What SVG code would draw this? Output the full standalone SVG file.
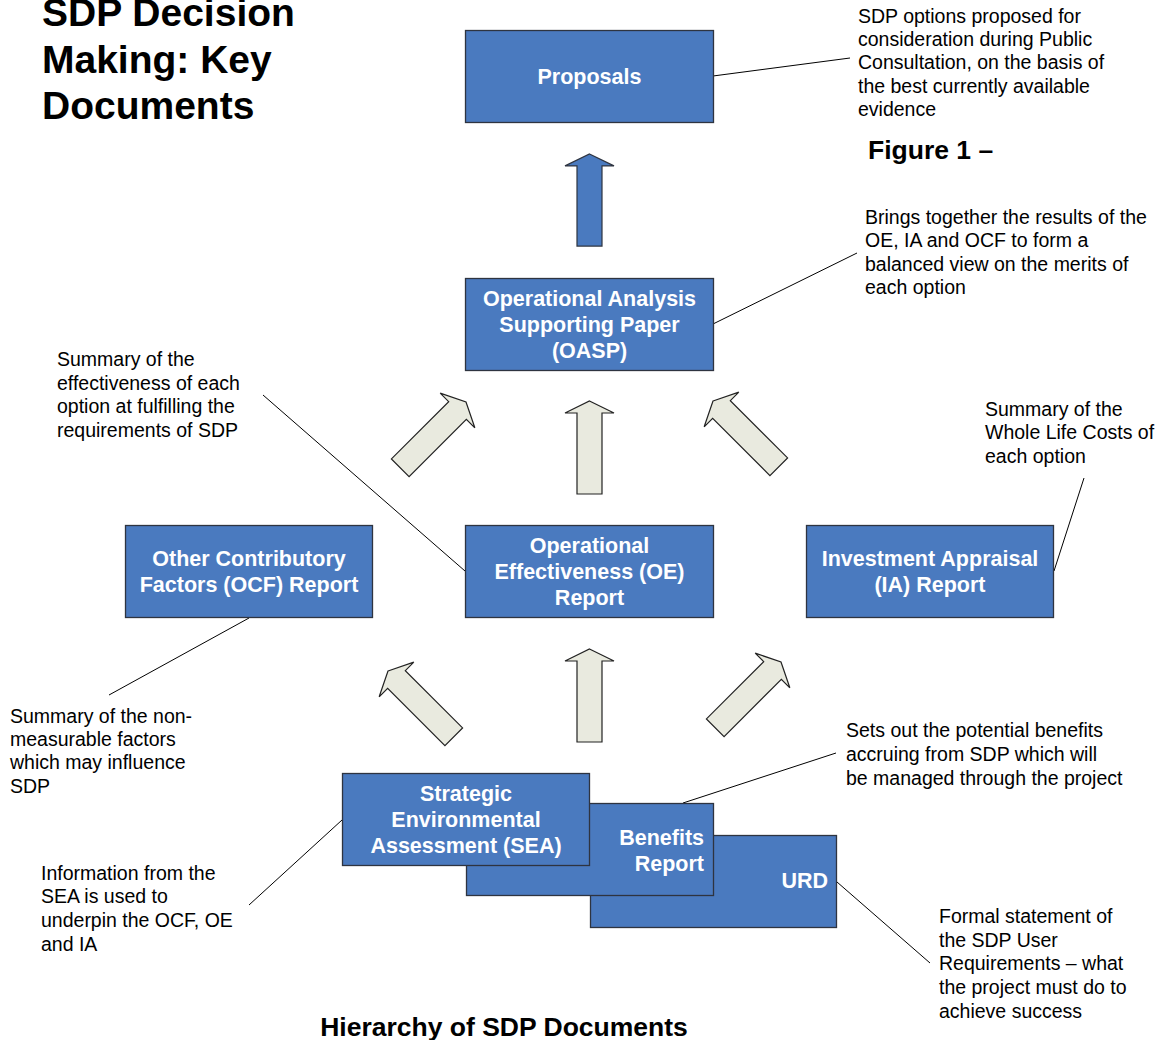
<svg xmlns="http://www.w3.org/2000/svg" width="1164" height="1040" viewBox="0 0 1164 1040">
<style>
.box{fill:#4A7ABF;stroke:#2E3440;stroke-width:1.3}
.bt{font-family:"Liberation Sans",Arial,sans-serif;font-weight:bold;font-size:21.5px;fill:#fff}
.an{font-family:"Liberation Sans",Arial,sans-serif;font-size:19.5px;fill:#000}
.ttl{font-family:"Liberation Sans",Arial,sans-serif;font-weight:bold;fill:#000}
.lead{stroke:#000;stroke-width:1;fill:none}
.arr{fill:#E9EADF;stroke:#222;stroke-width:1.2}
.barr{fill:#4A7ABF;stroke:#2E3440;stroke-width:1.2}
</style>
<defs>
<path id="ua" d="M0,0 L24.5,12 L12.5,12 L12.5,93 L-12.5,93 L-12.5,12 L-24.5,12 Z"/>
</defs>
<rect width="1164" height="1040" fill="#fff"/>

<g id="title">
<text class="ttl" font-size="39" x="42" y="26">SDP Decision</text>
<text class="ttl" font-size="39" x="42" y="73">Making: Key</text>
<text class="ttl" font-size="39" x="42" y="119">Documents</text>
<text class="ttl" font-size="26.5" x="868" y="159">Figure 1 –</text>
<text class="ttl" font-size="26.5" x="504" y="1036" text-anchor="middle">Hierarchy of SDP Documents</text>
</g>

<g id="connectors">
<use href="#ua" class="barr" transform="translate(589.5,154) scale(1,0.99)"/>
<use href="#ua" class="arr" transform="translate(466,402) rotate(45)"/>
<use href="#ua" class="arr" transform="translate(589.5,401)"/>
<use href="#ua" class="arr" transform="translate(713,401) rotate(-45)"/>
<use href="#ua" class="arr" transform="translate(388,671) rotate(-45)"/>
<use href="#ua" class="arr" transform="translate(589.5,649)"/>
<use href="#ua" class="arr" transform="translate(781,662) rotate(45)"/>
<line class="lead" x1="713" y1="76" x2="850" y2="58"/>
<line class="lead" x1="713" y1="324" x2="857" y2="253"/>
<line class="lead" x1="465" y1="571" x2="263" y2="395"/>
<line class="lead" x1="1054" y1="571" x2="1084" y2="478"/>
<line class="lead" x1="249" y1="618" x2="109" y2="695"/>
<line class="lead" x1="683" y1="803" x2="836" y2="753"/>
<line class="lead" x1="342" y1="820" x2="249" y2="905"/>
<line class="lead" x1="837" y1="882" x2="930" y2="963"/>
</g>

<g id="proposals">
<rect class="box" x="465.5" y="30.5" width="248" height="92"/>
<text class="bt" x="589.5" y="83.5" text-anchor="middle">Proposals</text>
</g>
<g id="oasp">
<rect class="box" x="465.5" y="278.5" width="248" height="92"/>
<text class="bt" x="589.5" y="305.5" text-anchor="middle">Operational Analysis</text>
<text class="bt" x="589.5" y="331.5" text-anchor="middle">Supporting Paper</text>
<text class="bt" x="589.5" y="357.5" text-anchor="middle">(OASP)</text>
</g>
<g id="ocf">
<rect class="box" x="125.5" y="525.5" width="247" height="92"/>
<text class="bt" x="249" y="565.5" text-anchor="middle">Other Contributory</text>
<text class="bt" x="249" y="591.5" text-anchor="middle">Factors (OCF) Report</text>
</g>
<g id="oe">
<rect class="box" x="465.5" y="525.5" width="248" height="92"/>
<text class="bt" x="589.5" y="552.5" text-anchor="middle">Operational</text>
<text class="bt" x="589.5" y="578.5" text-anchor="middle">Effectiveness (OE)</text>
<text class="bt" x="589.5" y="605" text-anchor="middle">Report</text>
</g>
<g id="ia">
<rect class="box" x="806.5" y="525.5" width="247" height="92"/>
<text class="bt" x="930" y="565.5" text-anchor="middle">Investment Appraisal</text>
<text class="bt" x="930" y="591.5" text-anchor="middle">(IA) Report</text>
</g>
<g id="urd">
<rect class="box" x="590.5" y="835.5" width="246" height="92"/>
<text class="bt" x="828" y="887.5" text-anchor="end">URD</text>
</g>
<g id="benefits">
<rect class="box" x="466.5" y="803.5" width="247" height="92"/>
<text class="bt" x="704" y="844.5" text-anchor="end">Benefits</text>
<text class="bt" x="704" y="870.5" text-anchor="end">Report</text>
</g>
<g id="sea">
<rect class="box" x="342.5" y="773.5" width="247" height="92"/>
<text class="bt" x="466" y="800.5" text-anchor="middle">Strategic</text>
<text class="bt" x="466" y="826.5" text-anchor="middle">Environmental</text>
<text class="bt" x="466" y="852.5" text-anchor="middle">Assessment (SEA)</text>
</g>

<g id="notes">
<text class="an" x="858" y="23">SDP options proposed for</text>
<text class="an" x="858" y="46">consideration during Public</text>
<text class="an" x="858" y="69">Consultation, on the basis of</text>
<text class="an" x="858" y="93">the best currently available</text>
<text class="an" x="858" y="116">evidence</text>

<text class="an" x="865" y="224">Brings together the results of the</text>
<text class="an" x="865" y="247">OE, IA and OCF to form a</text>
<text class="an" x="865" y="271">balanced view on the merits of</text>
<text class="an" x="865" y="294">each option</text>

<text class="an" x="57" y="366">Summary of the</text>
<text class="an" x="57" y="390">effectiveness of each</text>
<text class="an" x="57" y="413">option at fulfilling the</text>
<text class="an" x="57" y="437">requirements of SDP</text>

<text class="an" x="985" y="416">Summary of the</text>
<text class="an" x="985" y="439">Whole Life Costs of</text>
<text class="an" x="985" y="463">each option</text>

<text class="an" x="10" y="723">Summary of the non-</text>
<text class="an" x="10" y="746">measurable factors</text>
<text class="an" x="10" y="769">which may influence</text>
<text class="an" x="10" y="793">SDP</text>

<text class="an" x="846" y="737">Sets out the potential benefits</text>
<text class="an" x="846" y="761">accruing from SDP which will</text>
<text class="an" x="846" y="785">be managed through the project</text>

<text class="an" x="41" y="880">Information from the</text>
<text class="an" x="41" y="903">SEA is used to</text>
<text class="an" x="41" y="927">underpin the OCF, OE</text>
<text class="an" x="41" y="951">and IA</text>

<text class="an" x="939" y="923">Formal statement of</text>
<text class="an" x="939" y="947">the SDP User</text>
<text class="an" x="939" y="970">Requirements – what</text>
<text class="an" x="939" y="994">the project must do to</text>
<text class="an" x="939" y="1018">achieve success</text>
</g>
</svg>
